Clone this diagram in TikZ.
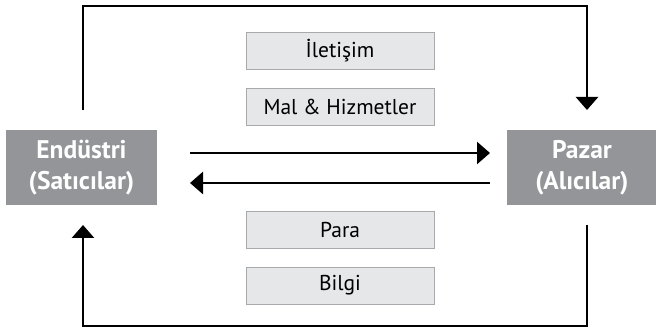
\documentclass[tikz,border=0pt]{standalone}
\usepackage{fontspec}
\setmainfont{PT Sans}
\usetikzlibrary{arrows.meta}
\definecolor{boxgray}{HTML}{939598}
\definecolor{lightfill}{HTML}{E6E7E8}
\definecolor{lightedge}{HTML}{A7A9AC}
\begin{document}
\begin{tikzpicture}[x=1pt,y=-1pt,
  party/.style={fill=boxgray,text=white,font=\bfseries\fontsize{25.5}{31}\selectfont,align=center,inner sep=0pt,minimum width=151pt,minimum height=75pt},
  flowbox/.style={fill=lightfill,draw=lightedge,line width=0.8pt,font=\fontsize{21.5}{26}\selectfont,inner sep=0pt,minimum width=188pt,minimum height=37pt},
  conn/.style={line width=2.6pt,-{Triangle[width=22pt,length=13pt]}}]
\useasboundingbox (0,0) rectangle (656,331);
\node[party] (ind) at (81.5,167.5) {Endüstri\\(Satıcılar)};
\node[party] (mkt) at (582,167.5) {Pazar\\(Alıcılar)};
\node[flowbox] (ilet) at (340,50.5) {İletişim};
\node[flowbox] (mal) at (340,106.5) {Mal \& Hizmetler};
\node[flowbox] (para) at (340,229.5) {Para};
\node[flowbox] (bilgi) at (340,285.5) {Bilgi};
\coordinate (ts) at (83,110);
\coordinate (te) at (587,110);
\coordinate (bs) at (587,225);
\coordinate (be) at (83,225);
\coordinate (r1) at (190,153);
\coordinate (r2) at (490,153);
\coordinate (l1) at (490,183);
\coordinate (l2) at (190,183);
\draw[conn] (ts) -- (83,6) -- (587,6) -- (te);
\draw[conn] (bs) -- (587,326) -- (83,326) -- (be);
\draw[conn] (r1) -- (r2);
\draw[conn] (l1) -- (l2);
\end{tikzpicture}
\end{document}
